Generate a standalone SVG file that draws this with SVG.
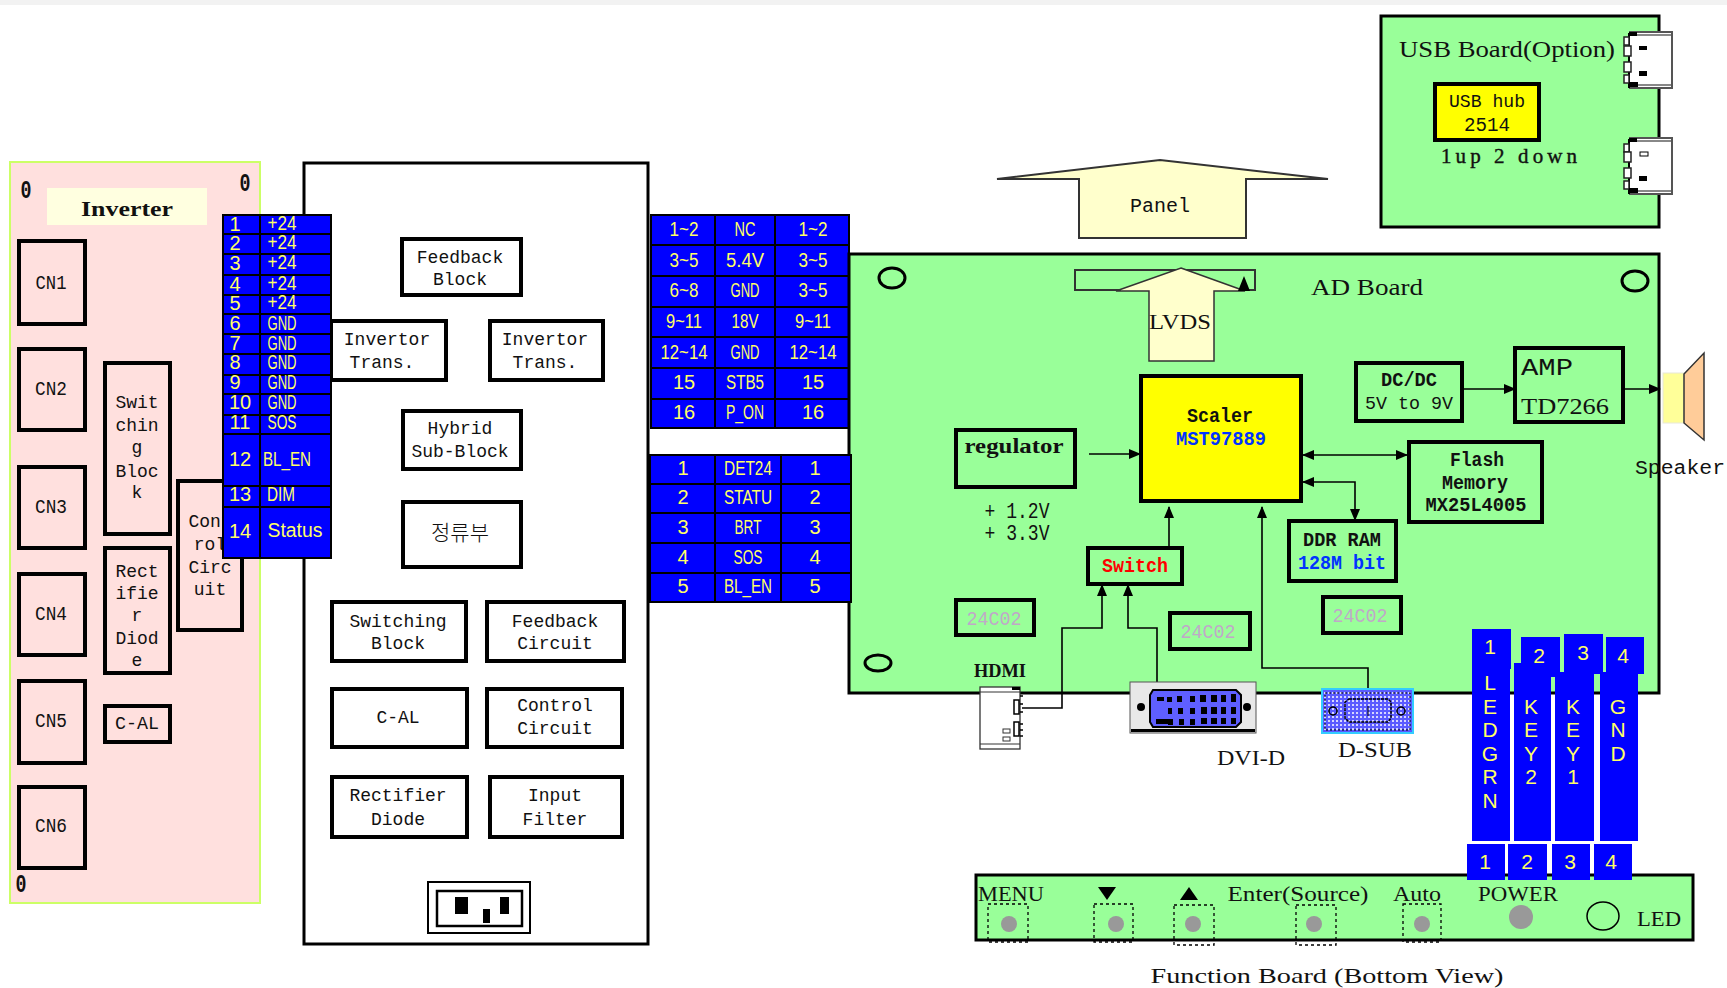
<svg xmlns="http://www.w3.org/2000/svg" width="1727" height="988" viewBox="0 0 1727 988">
<style>
text{font-family:"Liberation Mono","DejaVu Sans Mono",monospace;font-size:18px;fill:#111;text-anchor:middle;transform:translateY(-1px)}
.box{fill:none;stroke:#000;stroke-width:4}
.wb{fill:#fff;stroke:#000;stroke-width:4}
.blue{fill:#0000ff}
.grid{stroke:#000;stroke-width:2;fill:none}
.y{font-family:"Liberation Sans",Arial,sans-serif;font-size:20px;fill:#ffff66}
.l{font-size:21px}
.s{font-family:"Liberation Serif","Times New Roman",serif}
.sb{font-family:"Liberation Serif","Times New Roman",serif;font-weight:bold}
.ms{font-family:"Liberation Mono",monospace;font-weight:bold}
.g{fill:#c0a8c8;font-size:20px}
.wire{fill:none;stroke:#000;stroke-width:1.6}
.dash{fill:none;stroke:#000;stroke-width:1.3;stroke-dasharray:3 3}
.btn{fill:#999}
.hole{fill:none;stroke:#000;stroke-width:3}
.lead{fill:#fff;stroke:#222;stroke-width:1.5}
</style>
<defs>
<marker id="a" markerUnits="userSpaceOnUse" markerWidth="12" markerHeight="10" refX="11" refY="5" orient="auto-start-reverse"><path d="M0 0L12 5L0 10Z" fill="#000"/></marker>
<pattern id="dots" width="4" height="4" patternUnits="userSpaceOnUse"><rect width="4" height="4" fill="#5a5aff"/><circle cx="1" cy="1" r="1" fill="#fff"/></pattern>
</defs>
<rect id="background" width="1727" height="988" fill="#fff"/>
<rect id="top-strip" width="1727" height="5" fill="#f2f2f2"/>

<g id="inverter">
<rect x="10" y="162" width="250" height="741" fill="#ffe0de" stroke="#ccff66" stroke-width="2"/>
<rect x="47" y="188" width="160" height="37" fill="#ffffe0"/>
<text class="sb" x="127" y="217" style="font-size:22px" textLength="92" lengthAdjust="spacingAndGlyphs">Inverter</text>
<text x="26" y="199" class="ms" style="font-size:25px" textLength="11" lengthAdjust="spacingAndGlyphs">0</text>
<text x="245" y="192" class="ms" style="font-size:25px" textLength="11" lengthAdjust="spacingAndGlyphs">0</text>
<text x="21" y="893" class="ms" style="font-size:25px" textLength="11" lengthAdjust="spacingAndGlyphs">0</text>
</g>
<g id="cn1"><rect class="box" x="19" y="241" width="66" height="83"/><text x="51" y="290" style="font-size:20px" textLength="31" lengthAdjust="spacingAndGlyphs">CN1</text></g>
<g id="cn2"><rect class="box" x="19" y="349" width="66" height="81"/><text x="51" y="396" style="font-size:20px" textLength="32" lengthAdjust="spacingAndGlyphs">CN2</text></g>
<g id="cn3"><rect class="box" x="19" y="467" width="66" height="81"/><text x="51" y="514" style="font-size:20px" textLength="32" lengthAdjust="spacingAndGlyphs">CN3</text></g>
<g id="cn4"><rect class="box" x="19" y="574" width="66" height="81"/><text x="51" y="621" style="font-size:20px" textLength="32" lengthAdjust="spacingAndGlyphs">CN4</text></g>
<g id="cn5"><rect class="box" x="19" y="681" width="66" height="82"/><text x="51" y="728" style="font-size:20px" textLength="32" lengthAdjust="spacingAndGlyphs">CN5</text></g>
<g id="cn6"><rect class="box" x="19" y="787" width="66" height="81"/><text x="51" y="833" style="font-size:20px" textLength="32" lengthAdjust="spacingAndGlyphs">CN6</text></g>
<g id="inv-switching"><rect class="box" x="105" y="363" width="65" height="171"/>
<text x="137" y="409">Swit</text><text x="137" y="432">chin</text><text x="137" y="454">g</text><text x="137" y="478">Bloc</text><text x="137" y="499">k</text></g>
<g id="inv-rectifier"><rect class="box" x="105" y="548" width="65" height="125"/>
<text x="137" y="578">Rect</text><text x="137" y="600">ifie</text><text x="137" y="622">r</text><text x="137" y="645">Diod</text><text x="137" y="667">e</text></g>
<g id="inv-control"><rect class="box" x="178" y="481" width="64" height="149"/>
<text x="210" y="528">Cont</text><text x="210" y="551">rol</text><text x="210" y="574">Circ</text><text x="210" y="596">uit</text></g>
<g id="inv-cal"><rect class="box" x="105" y="706" width="65" height="36"/><text x="137" y="730" textLength="44" lengthAdjust="spacingAndGlyphs">C-AL</text></g>

<g id="power-board"><rect x="304" y="163" width="344" height="781" fill="#fff" stroke="#000" stroke-width="3"/></g>
<g id="feedback-block"><rect class="box" x="402" y="239" width="119" height="56"/><text x="460" y="264">Feedback</text><text x="460" y="286">Block</text></g>
<g id="invertor-trans-1"><rect class="wb" x="331" y="321" width="115" height="59"/><text x="387" y="346">Invertor</text><text x="382" y="369">Trans.</text></g>
<g id="invertor-trans-2"><rect class="wb" x="490" y="321" width="113" height="59"/><text x="545" y="346">Invertor</text><text x="545" y="369">Trans.</text></g>
<g id="hybrid"><rect class="box" x="403" y="411" width="118" height="58"/><text x="460" y="435">Hybrid</text><text x="460" y="458">Sub-Block</text></g>
<g id="rectifier-kr"><rect class="box" x="403" y="502" width="118" height="65"/><text x="460" y="541" style="font-family:'Noto Sans CJK KR',sans-serif;font-size:21px;font-weight:300">정류부</text></g>
<g id="switching-block"><rect class="box" x="332" y="602" width="134" height="59"/><text x="398" y="628">Switching</text><text x="398" y="650">Block</text></g>
<g id="feedback-circuit"><rect class="box" x="487" y="602" width="137" height="59"/><text x="555" y="628">Feedback</text><text x="555" y="650">Circuit</text></g>
<g id="c-al"><rect class="box" x="332" y="689" width="135" height="58"/><text x="398" y="724">C-AL</text></g>
<g id="control-circuit"><rect class="box" x="487" y="689" width="135" height="58"/><text x="555" y="712">Control</text><text x="555" y="735">Circuit</text></g>
<g id="rectifier-diode"><rect class="box" x="332" y="777" width="135" height="60"/><text x="398" y="802">Rectifier</text><text x="398" y="826">Diode</text></g>
<g id="input-filter"><rect class="box" x="490" y="777" width="132" height="60"/><text x="555" y="802">Input</text><text x="555" y="826">Filter</text></g>
<g id="plug"><rect x="428" y="882" width="102" height="51" fill="#fff" stroke="#000" stroke-width="2"/><rect x="437" y="891" width="85" height="35" fill="#fff" stroke="#000" stroke-width="2.5"/><rect x="455" y="897" width="13" height="17"/><rect x="483" y="909" width="7" height="14"/><rect x="500" y="897" width="9" height="17"/></g>

<g id="table-inverter">
<rect class="blue" x="223" y="215" width="108" height="343"/>
<path class="grid" d="M223 215H331V558H223ZM260 215V558M223 234H331M223 254H331M223 275H331M223 295H331M223 314H331M223 334H331M223 354H331M223 375H331M223 394H331M223 415H331M223 434H331M223 486H331M223 507H331"/>
<text class="y" x="235" y="232">1</text><text class="y" x="235" y="251">2</text><text class="y" x="235" y="271">3</text><text class="y" x="235" y="292">4</text><text class="y" x="235" y="311">5</text><text class="y" x="235" y="331">6</text><text class="y" x="235" y="351">7</text><text class="y" x="235" y="370">8</text><text class="y" x="235" y="390">9</text><text class="y" x="240" y="410">10</text><text class="y" x="240" y="430">11</text><text class="y" x="240" y="467">12</text><text class="y" x="240" y="502">13</text><text class="y" x="240" y="539">14</text>
<text class="y" x="282" y="231" textLength="29" lengthAdjust="spacingAndGlyphs">+24</text><text class="y" x="282" y="250" textLength="29" lengthAdjust="spacingAndGlyphs">+24</text><text class="y" x="282" y="270" textLength="29" lengthAdjust="spacingAndGlyphs">+24</text><text class="y" x="282" y="291" textLength="29" lengthAdjust="spacingAndGlyphs">+24</text><text class="y" x="282" y="310" textLength="29" lengthAdjust="spacingAndGlyphs">+24</text>
<text class="y" x="282" y="331" textLength="29" lengthAdjust="spacingAndGlyphs">GND</text><text class="y" x="282" y="351" textLength="29" lengthAdjust="spacingAndGlyphs">GND</text><text class="y" x="282" y="370" textLength="29" lengthAdjust="spacingAndGlyphs">GND</text><text class="y" x="282" y="390" textLength="29" lengthAdjust="spacingAndGlyphs">GND</text><text class="y" x="282" y="410" textLength="29" lengthAdjust="spacingAndGlyphs">GND</text>
<text class="y" x="282" y="430" textLength="29" lengthAdjust="spacingAndGlyphs">SOS</text><text class="y" x="287" y="467" textLength="48" lengthAdjust="spacingAndGlyphs">BL_EN</text><text class="y" x="281" y="502" textLength="28" lengthAdjust="spacingAndGlyphs">DIM</text><text class="y" x="295" y="538" textLength="55" lengthAdjust="spacingAndGlyphs">Status</text>
</g>

<g id="table-panel">
<rect class="blue" x="651" y="215" width="198" height="213"/>
<path class="grid" d="M651 215H849V428H651ZM715 215V428M775 215V428M651 245H849M651 276H849M651 307H849M651 337H849M651 368H849M651 399H849"/>
<text class="y" x="684" y="237" textLength="29" lengthAdjust="spacingAndGlyphs">1~2</text><text class="y" x="745" y="237" textLength="21" lengthAdjust="spacingAndGlyphs">NC</text><text class="y" x="813" y="237" textLength="29" lengthAdjust="spacingAndGlyphs">1~2</text>
<text class="y" x="684" y="268" textLength="29" lengthAdjust="spacingAndGlyphs">3~5</text><text class="y" x="745" y="268" textLength="38" lengthAdjust="spacingAndGlyphs">5.4V</text><text class="y" x="813" y="268" textLength="29" lengthAdjust="spacingAndGlyphs">3~5</text>
<text class="y" x="684" y="298" textLength="29" lengthAdjust="spacingAndGlyphs">6~8</text><text class="y" x="745" y="298" textLength="29" lengthAdjust="spacingAndGlyphs">GND</text><text class="y" x="813" y="298" textLength="29" lengthAdjust="spacingAndGlyphs">3~5</text>
<text class="y" x="684" y="329" textLength="36" lengthAdjust="spacingAndGlyphs">9~11</text><text class="y" x="745" y="329" textLength="27" lengthAdjust="spacingAndGlyphs">18V</text><text class="y" x="813" y="329" textLength="36" lengthAdjust="spacingAndGlyphs">9~11</text>
<text class="y" x="684" y="360" textLength="47" lengthAdjust="spacingAndGlyphs">12~14</text><text class="y" x="745" y="360" textLength="29" lengthAdjust="spacingAndGlyphs">GND</text><text class="y" x="813" y="360" textLength="47" lengthAdjust="spacingAndGlyphs">12~14</text>
<text class="y" x="684" y="390">15</text><text class="y" x="745" y="390" textLength="38" lengthAdjust="spacingAndGlyphs">STB5</text><text class="y" x="813" y="390">15</text>
<text class="y" x="684" y="420">16</text><text class="y" x="745" y="420" textLength="38" lengthAdjust="spacingAndGlyphs">P_ON</text><text class="y" x="813" y="420">16</text>
</g>

<g id="ad-board"><rect x="849" y="254" width="810" height="439" fill="#99ff99" stroke="#000" stroke-width="3"/>
<ellipse class="hole" cx="892" cy="278" rx="13" ry="10"/><ellipse class="hole" cx="1635" cy="281" rx="13" ry="10"/><ellipse class="hole" cx="878" cy="663" rx="13" ry="8"/>
<text class="s" x="1367" y="296" style="font-size:23px" textLength="112" lengthAdjust="spacingAndGlyphs">AD Board</text>
<text x="1017" y="519" style="font-size:22px;fill:#111" textLength="65" lengthAdjust="spacingAndGlyphs">+ 1.2V</text>
<text x="1017" y="541" style="font-size:22px;fill:#111" textLength="65" lengthAdjust="spacingAndGlyphs">+ 3.3V</text>
</g>

<g id="table-inverter-2">
<rect class="blue" x="650" y="455" width="201" height="147"/>
<path class="grid" d="M650 455H851V602H650ZM715 455V602M781 455V602M650 484H851M650 513H851M650 543H851M650 573H851"/>
<text class="y" x="683" y="476">1</text><text class="y" x="748" y="476" textLength="48" lengthAdjust="spacingAndGlyphs">DET24</text><text class="y" x="815" y="476">1</text>
<text class="y" x="683" y="505">2</text><text class="y" x="748" y="505" textLength="48" lengthAdjust="spacingAndGlyphs">STATU</text><text class="y" x="815" y="505">2</text>
<text class="y" x="683" y="535">3</text><text class="y" x="748" y="535" textLength="27" lengthAdjust="spacingAndGlyphs">BRT</text><text class="y" x="815" y="535">3</text>
<text class="y" x="683" y="565">4</text><text class="y" x="748" y="565" textLength="29" lengthAdjust="spacingAndGlyphs">SOS</text><text class="y" x="815" y="565">4</text>
<text class="y" x="683" y="594">5</text><text class="y" x="748" y="594" textLength="48" lengthAdjust="spacingAndGlyphs">BL_EN</text><text class="y" x="815" y="594">5</text>
</g>

<g id="panel"><path d="M997 179L1160 160L1328 179H1246V238H1079V179Z" fill="#ffffcc" stroke="#333" stroke-width="2"/><text x="1160" y="213" style="font-size:20px">Panel</text></g>
<g id="lvds"><rect x="1075" y="270" width="180" height="20" fill="none" stroke="#333" stroke-width="2"/>
<path d="M1181 268L1245 291H1214V361H1149V291H1116Z" fill="#ffffcc" stroke="#333" stroke-width="1.5"/><path d="M1238 291L1244 276L1250 291Z"/>
<text x="1180" y="330" style="font-size:22px;fill:#111" class="s" textLength="62" lengthAdjust="spacingAndGlyphs">LVDS</text></g>

<g id="scaler"><rect x="1141" y="376" width="160" height="125" fill="#ffff00" stroke="#000" stroke-width="4"/>
<text x="1220" y="423" class="ms" style="font-size:20px" textLength="66" lengthAdjust="spacingAndGlyphs">Scaler</text>
<text x="1221" y="446" class="ms" style="font-size:20px;fill:#0033ff" textLength="90" lengthAdjust="spacingAndGlyphs">MST97889</text></g>
<g id="regulator"><rect class="box" x="956" y="430" width="119" height="57"/><text x="1014" y="454" class="sb" style="font-size:20px" textLength="99" lengthAdjust="spacingAndGlyphs">regulator</text></g>
<g id="dcdc"><rect class="box" x="1356" y="363" width="106" height="58"/><text x="1409" y="387" class="ms" style="font-size:20px" textLength="56" lengthAdjust="spacingAndGlyphs">DC/DC</text><text x="1409" y="410" style="font-size:19px" textLength="88" lengthAdjust="spacingAndGlyphs">5V to 9V</text></g>
<g id="amp"><rect class="box" x="1515" y="348" width="108" height="74"/><text x="1547" y="376" style="font-size:23px" textLength="52" lengthAdjust="spacingAndGlyphs">AMP</text><text x="1565" y="415" style="font-size:23px;font-family:'Liberation Serif',serif" textLength="88" lengthAdjust="spacingAndGlyphs">TD7266</text></g>
<g id="flash"><rect class="box" x="1409" y="442" width="133" height="80"/><text x="1477" y="467" class="ms" textLength="54" lengthAdjust="spacingAndGlyphs" style="font-size:20px">Flash</text><text x="1475" y="490" class="ms" textLength="66" lengthAdjust="spacingAndGlyphs" style="font-size:20px">Memory</text><text x="1476" y="512" class="ms" textLength="101" lengthAdjust="spacingAndGlyphs" style="font-size:20px">MX25L4005</text></g>
<g id="ddr"><rect class="box" x="1289" y="521" width="107" height="60"/><text x="1342" y="547" class="ms" style="font-size:20px" textLength="78" lengthAdjust="spacingAndGlyphs">DDR RAM</text><text x="1342" y="570" class="ms" style="font-size:20px;fill:#0033ff" textLength="88" lengthAdjust="spacingAndGlyphs">128M bit</text></g>
<g id="switch"><rect class="box" x="1088" y="548" width="94" height="36"/><text x="1135" y="573" class="ms" style="font-size:20px;fill:#ff0000" textLength="66" lengthAdjust="spacingAndGlyphs">Switch</text></g>
<g id="eeprom-1"><rect class="box" x="956" y="600" width="78" height="35"/><text x="994" y="626" class="g" textLength="55" lengthAdjust="spacingAndGlyphs">24C02</text></g>
<g id="eeprom-2"><rect class="box" x="1170" y="613" width="80" height="36"/><text x="1208" y="639" class="g" textLength="55" lengthAdjust="spacingAndGlyphs">24C02</text></g>
<g id="eeprom-3"><rect class="box" x="1323" y="597" width="78" height="36"/><text x="1360" y="623" class="g" textLength="55" lengthAdjust="spacingAndGlyphs">24C02</text></g>

<g id="connectors">
<path class="wire" d="M1089 454H1140" marker-end="url(#a)"/>
<path class="wire" d="M1462 389H1515" marker-end="url(#a)"/>
<path class="wire" d="M1624 389H1660" marker-end="url(#a)"/>
<path class="wire" d="M1303 455H1407" marker-start="url(#a)" marker-end="url(#a)"/>
<path class="wire" d="M1303 482H1355V520" marker-start="url(#a)" marker-end="url(#a)"/>
<path class="wire" d="M1169 547V507" marker-end="url(#a)"/>
<path class="wire" d="M1022 708H1062V628H1102V585" marker-end="url(#a)"/>
<path class="wire" d="M1157 682V628H1128V585" marker-end="url(#a)"/>
<path class="wire" d="M1368 688V668H1262V507" marker-end="url(#a)"/>
</g>

<g id="hdmi">
<text x="1000" y="678" class="sb" style="font-size:18px" textLength="52" lengthAdjust="spacingAndGlyphs">HDMI</text>
<rect x="980" y="687" width="40" height="62" fill="#fff" stroke="#333" stroke-width="1.3"/><path d="M980 692H1020M980 744H1020" stroke="#333" fill="none"/>
<rect x="1014" y="700" width="5" height="14" fill="#fff" stroke="#000" stroke-width="1.5"/><rect x="1014" y="722" width="5" height="14" fill="#fff" stroke="#000" stroke-width="1.5"/>
<rect x="1003" y="729" width="7" height="4" fill="#fff" stroke="#333"/><rect x="1003" y="737" width="7" height="4" fill="#fff" stroke="#333"/>
<path d="M1020 696h3M1020 704h3M1020 712h3M1020 724h3M1020 730h3M1020 736h3" stroke="#000" stroke-width="1.5"/>
<rect x="1012" y="687" width="8" height="3"/>
</g>
<g id="dvi-d"><rect x="1130" y="682" width="126" height="51" fill="#e8e8e8" stroke="#555"/><rect x="1131" y="729" width="124" height="3"/>
<path d="M1153 690H1236L1241 695V722L1236 727H1153L1150 722V695Z" fill="#5f5fff" stroke="#000" stroke-width="2"/>
<circle cx="1141" cy="707" r="4"/><circle cx="1247" cy="707" r="4"/>
<path d="M1157 697h7v4h-7zM1167 697h5v5h-5zM1177 696h5v6h-5zM1190 696h5v6h-5zM1200 695h6v7h-6zM1211 695h6v7h-6zM1221 695h5v7h-5zM1231 694h5v8h-5zM1168 708h4v6h-4zM1178 708h5v6h-5zM1190 708h5v6h-5zM1201 707h6v7h-6zM1211 707h6v7h-6zM1221 707h5v7h-5zM1231 707h5v7h-5zM1156 719h12v5h-12zM1168 719h5v6h-5zM1179 719h5v6h-5zM1190 719h5v6h-5zM1201 718h6v6h-6zM1211 718h6v6h-6zM1221 718h5v6h-5zM1231 718h5v6h-5z"/></g>
<g id="d-sub"><rect x="1322" y="689" width="91" height="44" fill="url(#dots)" stroke="#33ccff" stroke-width="2"/><rect x="1325" y="693" width="85" height="37" fill="none" stroke="#000" stroke-dasharray="2 2"/>
<path d="M1349 699H1388L1391 702V718L1388 722H1349L1345 718V702Z" fill="none" stroke="#000" stroke-width="1.5" stroke-dasharray="3 1"/>
<circle cx="1333" cy="711" r="4" fill="none" stroke="#000" stroke-width="1.5"/><circle cx="1401" cy="711" r="4" fill="none" stroke="#000" stroke-width="1.5"/><path d="M1368 706V716" stroke="#000"/></g>
<text id="dvi-label" class="s" x="1251" y="766" style="font-size:22px" textLength="68" lengthAdjust="spacingAndGlyphs">DVI-D</text>
<text id="dsub-label" class="s" x="1375" y="758" style="font-size:22px" textLength="74" lengthAdjust="spacingAndGlyphs">D-SUB</text>

<g id="speaker"><rect x="1663" y="373" width="21" height="50" fill="#ffff99" stroke="#e8e8d8"/><path d="M1684 374L1704 353V440L1684 423Z" fill="#ffcc99" stroke="#333" stroke-width="1.5"/><text x="1680" y="475" style="font-size:20px" textLength="90" lengthAdjust="spacingAndGlyphs">Speaker</text></g>

<g id="usb-board"><rect x="1381" y="16" width="278" height="211" fill="#99ff99" stroke="#000" stroke-width="3"/>
<text class="s" x="1507" y="58" style="font-size:23px" textLength="216" lengthAdjust="spacingAndGlyphs">USB Board(Option)</text>
<text x="1509" y="164" style="font-size:21px" class="s" textLength="136" stroke="#111" stroke-width=".4">1up 2 down</text></g>
<g id="usb-hub"><rect x="1435" y="84" width="104" height="56" fill="#ffff00" stroke="#000" stroke-width="4"/><text x="1487" y="108" style="font-size:19px" textLength="76" lengthAdjust="spacingAndGlyphs">USB hub</text><text x="1487" y="132" style="font-size:20px" textLength="46" lengthAdjust="spacingAndGlyphs">2514</text></g>
<g id="usb-port-1"><rect x="1629" y="32" width="42" height="56" fill="#fff"/><path d="M1629 32H1672V88H1629" fill="none" stroke="#555" stroke-width="2"/><path d="M1629 35H1671M1629 85H1671" stroke="#888" stroke-width="2"/><path d="M1629 33V88" stroke="#000" stroke-width="2"/>
<rect x="1624" y="37" width="5" height="8" class="lead"/><rect x="1624" y="46" width="7" height="10" class="lead"/><rect x="1624" y="62" width="7" height="10" class="lead"/><rect x="1624" y="75" width="5" height="8" class="lead"/><rect x="1639" y="46" width="8" height="4"/><rect x="1639" y="71" width="8" height="5"/><rect x="1629" y="32" width="8" height="4"/><rect x="1629" y="82" width="9" height="5"/></g>
<g id="usb-port-2"><rect x="1629" y="138" width="42" height="56" fill="#fff"/><path d="M1629 138H1672V194H1629" fill="none" stroke="#555" stroke-width="2"/><path d="M1629 141H1671M1629 191H1671" stroke="#888" stroke-width="2"/><path d="M1629 139V194" stroke="#000" stroke-width="2"/>
<rect x="1624" y="144" width="5" height="8" class="lead"/><rect x="1624" y="152" width="7" height="10" class="lead"/><rect x="1624" y="168" width="7" height="10" class="lead"/><rect x="1624" y="181" width="5" height="8" class="lead"/><rect x="1640" y="152" width="8" height="4" fill="#fff" stroke="#000"/><rect x="1639" y="176" width="8" height="5"/><rect x="1629" y="138" width="8" height="4"/><rect x="1629" y="188" width="9" height="5"/></g>

<g id="function-board"><rect x="976" y="875" width="717" height="65" fill="#99ff99" stroke="#000" stroke-width="3"/>
<text class="s" x="1011" y="902" style="font-size:22px" textLength="66" lengthAdjust="spacingAndGlyphs">MENU</text>
<path d="M1098 887H1116L1107 900Z"/><path d="M1180 900H1198L1189 887Z"/>
<text class="s" x="1298" y="902" style="font-size:22px" textLength="141" lengthAdjust="spacingAndGlyphs">Enter(Source)</text>
<text class="s" x="1417" y="902" style="font-size:22px" textLength="48" lengthAdjust="spacingAndGlyphs">Auto</text>
<text class="s" x="1518" y="902" style="font-size:22px" textLength="80" lengthAdjust="spacingAndGlyphs">POWER</text>
<rect class="dash" x="988" y="904" width="40" height="38"/><rect class="dash" x="1094" y="904" width="39" height="38"/><rect class="dash" x="1174" y="905" width="40" height="40"/><rect class="dash" x="1296" y="905" width="40" height="40"/><rect class="dash" x="1403" y="904" width="38" height="38"/>
<circle class="btn" cx="1009" cy="924" r="8"/><circle class="btn" cx="1116" cy="924" r="8"/><circle class="btn" cx="1193" cy="924" r="8"/><circle class="btn" cx="1314" cy="924" r="8"/><circle class="btn" cx="1422" cy="924" r="8"/><circle class="btn" cx="1521" cy="917" r="12"/>
<ellipse cx="1603" cy="916" rx="16" ry="14" fill="none" stroke="#000" stroke-width="1.5"/>
<text class="s" x="1659" y="927" style="font-size:20px" textLength="44" lengthAdjust="spacingAndGlyphs">LED</text></g>
<text id="function-label" class="s" x="1327" y="984" style="font-size:22px" textLength="353" lengthAdjust="spacingAndGlyphs">Function Board (Bottom View)</text>

<g id="key-harness" transform="translate(-2 0)">
<rect class="blue" x="1474" y="629" width="39" height="40"/><rect class="blue" x="1523" y="637" width="39" height="40"/><rect class="blue" x="1566" y="634" width="39" height="40"/><rect class="blue" x="1608" y="637" width="38" height="37"/>
<rect class="blue" x="1474" y="663" width="38" height="178"/><rect class="blue" x="1516" y="663" width="37" height="178"/><rect class="blue" x="1557" y="672" width="39" height="169"/><rect class="blue" x="1602" y="672" width="38" height="169"/>
<rect class="blue" x="1469" y="844" width="38" height="36"/><rect class="blue" x="1510" y="844" width="39" height="36"/><rect class="blue" x="1554" y="844" width="38" height="36"/><rect class="blue" x="1596" y="844" width="38" height="36"/>
<text class="y l" x="1492" y="655">1</text><text class="y l" x="1541" y="664">2</text><text class="y l" x="1585" y="661">3</text><text class="y l" x="1625" y="664">4</text>
<text class="y l" x="1492" y="691">L</text><text class="y l" x="1492" y="715">E</text><text class="y l" x="1492" y="738">D</text><text class="y l" x="1492" y="762">G</text><text class="y l" x="1492" y="785">R</text><text class="y l" x="1492" y="809">N</text>
<text class="y l" x="1533" y="715">K</text><text class="y l" x="1533" y="738">E</text><text class="y l" x="1533" y="762">Y</text><text class="y l" x="1533" y="785">2</text>
<text class="y l" x="1575" y="715">K</text><text class="y l" x="1575" y="738">E</text><text class="y l" x="1575" y="762">Y</text><text class="y l" x="1575" y="785">1</text>
<text class="y l" x="1620" y="715">G</text><text class="y l" x="1620" y="738">N</text><text class="y l" x="1620" y="762">D</text>
<text class="y l" x="1487" y="870">1</text><text class="y l" x="1529" y="870">2</text><text class="y l" x="1572" y="870">3</text><text class="y l" x="1613" y="870">4</text>
</g>
</svg>
